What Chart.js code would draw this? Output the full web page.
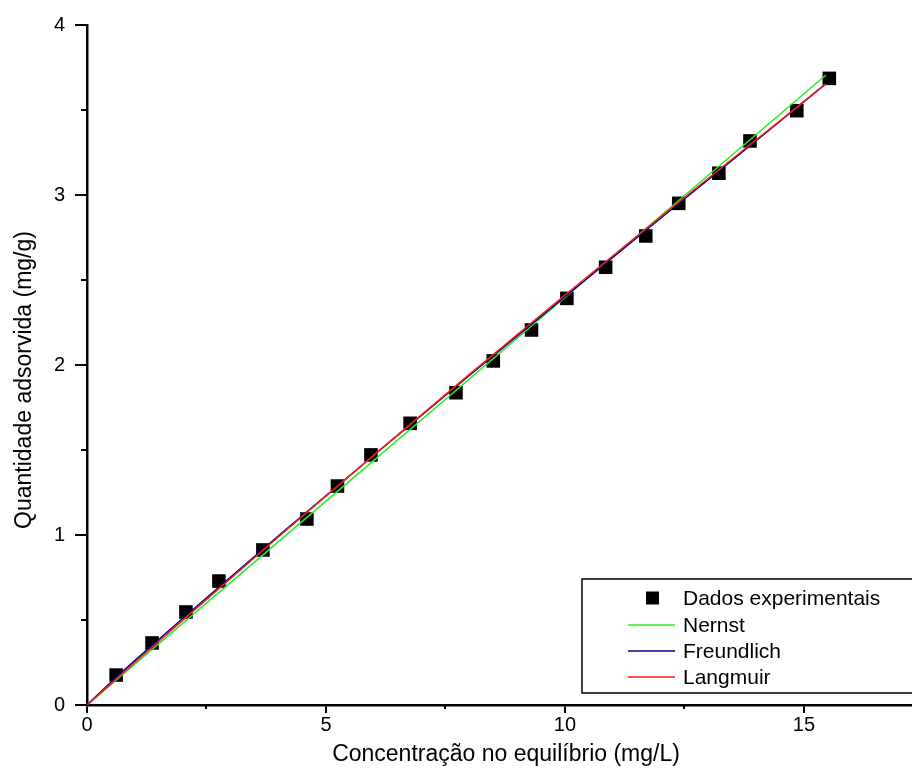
<!DOCTYPE html>
<html><head><meta charset="utf-8">
<script src="https://cdn.jsdelivr.net/npm/chart.js@4/dist/chart.umd.min.js"></script>
<style>html,body{margin:0;padding:0;background:#fff;overflow:hidden}#wrap{width:912px;height:771px;position:relative}</style>
</head><body><div id="wrap"><canvas id="c" width="912" height="771"></canvas></div>
<script>
// ---- data ----
const expC = [0.61,1.36,2.07,2.76,3.68,4.60,5.24,5.94,6.76,7.72,8.50,9.30,10.04,10.85,11.69,12.38,13.22,13.87,14.85,15.53];
const expQ = [0.176,0.365,0.547,0.729,0.912,1.094,1.288,1.471,1.657,1.837,2.024,2.206,2.392,2.575,2.759,2.951,3.128,3.318,3.496,3.686];
const nernstC = [0, 5, 10, 15.46];
const nernstQ = [0, 1.199, 2.397, 3.706];
const freundlichC = [0, 0.5, 1, 2, 4, 6, 8, 10, 12, 14, 15.46];
const freundlichQ = [0, 0.134, 0.261, 0.509, 0.993, 1.469, 1.938, 2.402, 2.863, 3.320, 3.655];
const langmuirC = [0, 1, 2, 4, 6, 8, 10, 12, 14, 15.46];
const langmuirQ = [0, 0.250, 0.498, 0.988, 1.470, 1.945, 2.412, 2.872, 3.325, 3.653];
const xTicks = [0, 5, 10, 15];
const xMinorTicks = [2.5, 7.5, 12.5];
const yTicks = [0, 1, 2, 3, 4];
const yMinorTicks = [0.5, 1.5, 2.5, 3.5];
const seriesNames = ['Dados experimentais', 'Nernst', 'Freundlich', 'Langmuir'];
const xTitle = 'Concentração no equilíbrio (mg/L)';
const yTitle = 'Quantidade adsorvida (mg/g)';

const FONT = '"Liberation Sans", Arial, sans-serif';
const pts = (xs, ys) => xs.map((x, i) => ({x, y: ys[i]}));

const extrasPlugin = {
  id: 'extras',
  afterDraw(chart) {
    const ctx = chart.ctx, xs = chart.scales.x, ys = chart.scales.y;
    const area = chart.chartArea;
    ctx.save();
    ctx.strokeStyle = '#000';
    ctx.lineWidth = 2;
    ctx.beginPath();
    xMinorTicks.forEach(v => {
      const px = Math.round(xs.getPixelForValue(v));
      ctx.moveTo(px, area.bottom); ctx.lineTo(px, area.bottom + 4);
    });
    yMinorTicks.forEach(v => {
      const py = Math.round(ys.getPixelForValue(v));
      ctx.moveTo(area.left, py); ctx.lineTo(area.left - 6, py);
    });
    ctx.stroke();
    ctx.fillStyle = '#000';
    ctx.font = '23px ' + FONT;
    ctx.textAlign = 'center';
    ctx.textBaseline = 'middle';
    // x axis title
    ctx.fillText(xTitle, 506, 755);
    // y axis title
    ctx.translate(25, 380);
    ctx.rotate(-Math.PI / 2);
    ctx.fillText(yTitle, 0, 0);
    ctx.restore();
  }
};

const legendBoxPlugin = {
  id: 'legendBox',
  afterDraw(chart) {
    const ctx = chart.ctx;
    const dsets = chart.data.datasets;
    ctx.save();
    ctx.fillStyle = '#fff';
    ctx.fillRect(582, 579, 340, 114);
    ctx.strokeStyle = '#000';
    ctx.lineWidth = 1.5;
    ctx.strokeRect(582, 579, 340, 114);
    const rows = [598, 625, 651, 677];
    ctx.font = '21px ' + FONT;
    ctx.textBaseline = 'middle';
    ctx.textAlign = 'left';
    dsets.forEach((d, i) => {
      const y = rows[i];
      if (i === 0) {
        ctx.fillStyle = d.backgroundColor;
        ctx.fillRect(646, y - 6.5, 13, 13);
      } else {
        ctx.strokeStyle = d.borderColor;
        ctx.lineWidth = 1.5;
        ctx.beginPath(); ctx.moveTo(628, y); ctx.lineTo(675, y); ctx.stroke();
      }
      ctx.fillStyle = '#000';
      ctx.fillText(d.label, 683, y + 1);
    });
    ctx.restore();
  }
};

new Chart(document.getElementById('c'), {
  type: 'scatter',
  data: {
    datasets: [
      { label: seriesNames[0], data: pts(expC, expQ), pointStyle: 'rect', pointRadius: 9.6,
        backgroundColor: '#000', borderColor: '#000', pointBorderWidth: 0, showLine: false, order: 4 },
      { label: seriesNames[1], data: pts(nernstC, nernstQ), showLine: true, pointRadius: 0,
        borderColor: '#22ee22', backgroundColor: '#22ee22', borderWidth: 1.5, order: 3 },
      { label: seriesNames[2], data: pts(freundlichC, freundlichQ), showLine: true, pointRadius: 0,
        borderColor: '#000088', backgroundColor: '#000088', borderWidth: 1.5, order: 2, cubicInterpolationMode: 'monotone' },
      { label: seriesNames[3], data: pts(langmuirC, langmuirQ), showLine: true, pointRadius: 0,
        borderColor: '#ff1a1a', backgroundColor: '#ff1a1a', borderWidth: 1.5, order: 1, cubicInterpolationMode: 'monotone' }
    ]
  },
  options: {
    responsive: false,
    animation: false,
    devicePixelRatio: 1,
    layout: { autoPadding: false, padding: { top: 25, right: 0, left: 0, bottom: 0 } },
    plugins: { legend: { display: false }, tooltip: { enabled: false } },
    scales: {
      x: {
        type: 'linear', min: 0, max: 17.26,
        afterBuildTicks: s => { s.ticks = xTicks.map(v => ({ value: v })); },
        afterFit: s => { s.height = 66; },
        grid: { display: true, drawOnChartArea: false, drawTicks: true, tickLength: 8, color: '#000', lineWidth: 2 },
        border: { display: true, color: '#000', width: 2.5 },
        ticks: { color: '#000', font: { family: FONT, size: 20 }, padding: 0, maxRotation: 0 },
        title: { display: false, text: xTitle }
      },
      y: {
        type: 'linear', min: 0, max: 4,
        afterBuildTicks: s => { s.ticks = yTicks.map(v => ({ value: v })); },
        afterFit: s => { s.width = 87; },
        grid: { display: true, drawOnChartArea: false, drawTicks: true, tickLength: 12, color: '#000', lineWidth: 2 },
        border: { display: true, color: '#000', width: 2.5 },
        ticks: { color: '#000', font: { family: FONT, size: 20 }, padding: 10 },
        title: { display: false, text: yTitle }
      }
    }
  },
  plugins: [extrasPlugin, legendBoxPlugin]
});
</script></body></html>
